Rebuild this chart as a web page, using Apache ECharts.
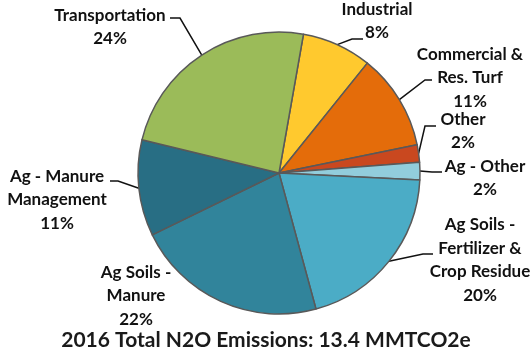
<!DOCTYPE html>
<html>
<head>
<meta charset="UTF-8">
<title>N2O Emissions 2016</title>
<script src="https://cdn.jsdelivr.net/npm/echarts@6/dist/echarts.min.js"></script>
<style>
  html, body { margin: 0; padding: 0; background: #fff; }
  #main { width: 532px; height: 351px; }
</style>
</head>
<body>
<div id="main"></div>
<script>
// data, clockwise from the top
var names = ['Industrial', 'Commercial &\nRes. Turf', 'Other', 'Ag - Other',
             'Ag Soils -\nFertilizer &\nCrop Residue', 'Ag Soils -\nManure',
             'Ag - Manure\nManagement', 'Transportation'];
var values = [8, 11, 2, 2, 20, 22, 11, 24];
var colors = ['#FFC92E', '#E46C0A', '#C9481F', '#92CDDC', '#4BACC6', '#31849B', '#286E84', '#9BBB59'];
var titleText = '2016 Total N2O Emissions: 13.4 MMTCO2e';

// label layout: label centre, then leader line bend and end (null = no line)
var labelPos = [[377, 21], [470, 78], [463, 131], [485, 178], [480, 260], [136, 296], [57, 200], [110, 27]];
var linePts = [
  [[352, 39], [363, 39]],
  [[425, 80], [432, 80]],
  [[425, 126], [436, 126]],
  [[432, 172], [442, 172]],
  [[423, 254], [433, 254]],
  null,
  [[118, 181], [110, 181]],
  [[180, 18], [170, 18]]
];

var myChart = echarts.init(document.getElementById('main'));
var data = [];
for (var i = 0; i < names.length; i++) {
  data.push({ name: names[i], value: values[i], itemStyle: { color: colors[i] } });
}

var option = {
  animation: false,
  title: {
    text: titleText,
    left: 'center',
    top: 325,
    textStyle: { fontFamily: 'Lato', fontWeight: 'bold', fontSize: 21, color: '#1a1a1a' }
  },
  series: [{
    type: 'pie',
    center: [279, 173],
    radius: 141,
    startAngle: 80,
    clockwise: true,
    data: data,
    itemStyle: { borderColor: '#595959', borderWidth: 1.5 },
    label: {
      show: true,
      formatter: '{b}\n{c}%',
      fontFamily: 'Lato',
      fontWeight: 'bold',
      fontSize: 17,
      lineHeight: 23.5,
      color: '#111',
      align: 'center',
      overflow: 'none'
    },
    labelLine: { show: true, lineStyle: { color: '#111', width: 1.5 } },
    labelLayout: function (params) {
      var k = params.dataIndex;
      var res = {
        x: labelPos[k][0],
        y: labelPos[k][1],
        align: 'center',
        verticalAlign: 'middle'
      };
      if (linePts[k] && params.labelLinePoints) {
        res.labelLinePoints = [params.labelLinePoints[0], linePts[k][0], linePts[k][1]];
      } else {
        res.labelLinePoints = [[0, 0], [0, 0], [0, 0]];
      }
      return res;
    }
  }]
};
myChart.setOption(option);
</script>
</body>
</html>
